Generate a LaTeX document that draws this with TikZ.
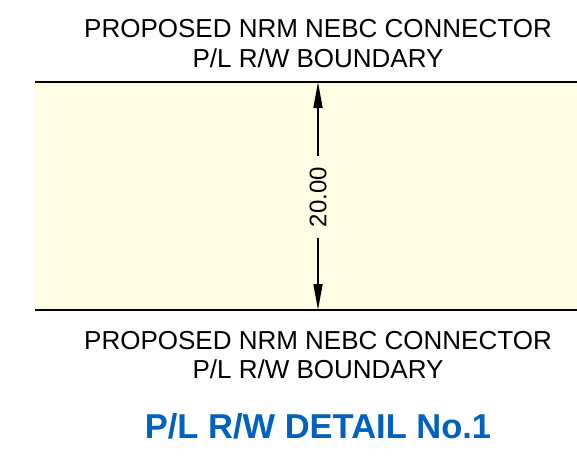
\documentclass[tikz,border=0pt]{standalone}
\usepackage{fontspec}
\setmainfont{Liberation Sans}
\usetikzlibrary{arrows.meta}
\definecolor{bandfill}{RGB}{255,253,227}
\definecolor{titleblue}{RGB}{0,98,190}
\begin{document}
\begin{tikzpicture}[x=1pt,y=-1pt,
  bndtext/.style={font=\fontsize{26}{29.5}\selectfont,align=center,inner sep=0pt},
  dimarrow/.style={line width=1.7pt,-{Triangle[length=26pt,width=9pt]}}]
\useasboundingbox (0,0) rectangle (577,456);
% Draw right of way band
\fill[bandfill] (35,82) rectangle (577,310);
\foreach \y/\name in {82/top,310/bot} {
	\draw[line width=2.4pt] (35,\y) -- (577,\y);
	\coordinate (\name mid) at (318,\y);
}
% Draw dimension
\node[rotate=90,font=\fontsize{24}{24}\selectfont,inner sep=11pt] (dim) at (318,197) {20.00};
\draw[dimarrow] (dim.east) -- (topmid);
\draw[dimarrow] (dim.west) -- (botmid);
% Boundary labels
\node[bndtext,anchor=base] (topbnd) at (318,67) {PROPOSED NRM NEBC CONNECTOR\\P/L R/W BOUNDARY};
\node[bndtext,anchor=base] (botbnd) at (318,378.5) {PROPOSED NRM NEBC CONNECTOR\\P/L R/W BOUNDARY};
% Title
\node[font=\fontsize{34.5}{34.5}\selectfont\bfseries,text=titleblue,anchor=base,inner sep=0pt] (title) at (318,438) {P/L R/W DETAIL No.1};
\end{tikzpicture}
\end{document}
